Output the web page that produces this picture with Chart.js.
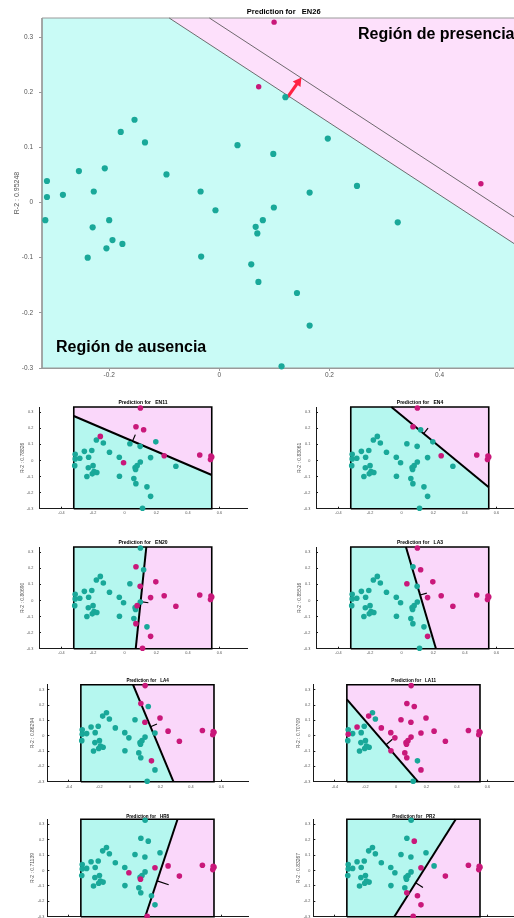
<!DOCTYPE html>
<html lang="es">
<head>
<meta charset="utf-8">
<title>Prediction for EN26</title>
<script src="https://cdn.jsdelivr.net/npm/chart.js@4.4.1/dist/chart.umd.min.js"></script>
<style>
  html, body { margin:0; padding:0; background:#ffffff; overflow:hidden; }
  body { position:relative; width:514px; height:918px; }
  canvas { position:absolute; display:block; }
  .region { position:absolute; font-family:"Liberation Sans", Arial, Helvetica, sans-serif; font-weight:bold;
            font-size:16px; line-height:16px; color:#000; white-space:nowrap; z-index:5; }
</style>
</head>
<body>
<canvas id="EN26" width="531" height="385" style="left:0px;top:0px;width:531px;height:385px"></canvas>
<canvas id="EN11" width="256" height="125" style="left:0px;top:395px;width:256px;height:125px"></canvas>
<canvas id="EN4"  width="256" height="125" style="left:277px;top:395px;width:256px;height:125px"></canvas>
<canvas id="EN20" width="256" height="125" style="left:0px;top:535px;width:256px;height:125px"></canvas>
<canvas id="LA3"  width="256" height="125" style="left:277px;top:535px;width:256px;height:125px"></canvas>
<canvas id="LA4"  width="256" height="117" style="left:0px;top:675px;width:256px;height:117px"></canvas>
<canvas id="LA11" width="256" height="117" style="left:266px;top:675px;width:256px;height:117px"></canvas>
<canvas id="HR8"  width="256" height="125" style="left:0px;top:805px;width:256px;height:125px"></canvas>
<canvas id="PR2"  width="256" height="125" style="left:266px;top:805px;width:256px;height:125px"></canvas>
<div class="region" style="left:358px;top:26px">Región de presencia</div>
<div class="region" style="left:56px;top:339px">Región de ausencia</div>
<script>
// ---------------- DATA ----------------
const POINT_X = [0.0995, 0.0715, 0.475, 0.120, -0.154, -0.179, -0.135, 0.033, 0.098, 0.197,
                 -0.255, -0.208, -0.096, -0.313, 0.250, -0.313, -0.284, -0.228, -0.034, 0.164,
                 -0.316, -0.230, -0.200, -0.194, -0.205, -0.176, -0.239, -0.033, -0.007, 0.066,
                 0.069, 0.079, 0.099, 0.058, 0.071, 0.141, 0.164, 0.113, 0.324, 0.543, 0.551, 0.546];
const POINT_Y = [0.327, 0.210, 0.034, 0.191, 0.150, 0.128, 0.109, 0.104, 0.088, 0.116,
                 0.057, 0.062, 0.051, 0.039, 0.030, 0.010, 0.014, 0.020, 0.020, 0.018,
                 -0.032, -0.045, -0.032, -0.068, -0.083, -0.075, -0.100, -0.098, -0.014, -0.044,
                 -0.056, -0.032, -0.009, -0.112, -0.144, -0.164, -0.223, -0.297, -0.036, 0.006, 0.022, 0.028];

const SPECIES   = ['EN26', 'EN11', 'EN4', 'EN20', 'LA3', 'LA4', 'LA11', 'HR8', 'PR2'];
const R2_VALUES = ['0.95248', '0.78826', '0.83061', '0.80690', '0.85516', '0.86294', '0.70709', '0.71139', '0.83267'];

// indices of points where the species is present (magenta)
const PRESENT_EN26 = [0, 1, 2, 39, 40, 41];
const PRESENT_EN11 = [0, 1, 2, 3, 4, 14, 28, 39, 40, 41];
const PRESENT_EN4  = [0, 1, 2, 14, 39, 40, 41];
const PRESENT_EN20 = [1, 2, 8, 9, 14, 19, 31, 34, 36, 37, 38, 39, 40, 41];
const PRESENT_LA3  = [0, 2, 3, 7, 9, 14, 19, 36, 38, 39, 40, 41];
const PRESENT_LA4  = [0, 1, 2, 8, 9, 14, 35, 38, 39, 40, 41];
const PRESENT_LA11 = [0, 1, 2, 3, 5, 7, 8, 9, 10, 12, 14, 15, 18, 19, 27, 28, 29, 30, 31, 32, 33, 34, 36, 38, 39, 40, 41];
const PRESENT_HR8  = [2, 14, 19, 28, 30, 37, 38, 39, 40, 41];
const PRESENT_PR2  = [2, 3, 19, 34, 35, 36, 37, 38, 39, 40, 41];

// separating lines (two points on each line) and normal markers (from line toward presence side)
const BOUNDARY_EN26 = [[-0.091, 0.3345], [0.536, -0.075]];
const MARGIN_EN26   = [[-0.018, 0.3345], [0.536, -0.0267]];
const ARROW_EN26    = [[0.124, 0.191], [0.149, 0.2265]];
const BOUNDARY_EN11 = [[-0.327, 0.279], [0.551, -0.090]];
const NORMAL_EN11   = [[0.050, 0.121], [0.0675, 0.161]];
const BOUNDARY_EN4  = [[-0.065, 0.333], [0.552, -0.167]];
const NORMAL_EN4    = [[0.139, 0.168], [0.167, 0.202]];
const BOUNDARY_EN20 = [[0.137, 0.333], [0.070, -0.300]];
const NORMAL_EN20   = [[0.101, -0.007], [0.150, -0.014]];
const BOUNDARY_LA3  = [[0.027, 0.333], [0.217, -0.300]];
const NORMAL_LA3    = [[0.117, 0.034], [0.159, 0.046]];
const BOUNDARY_LA4  = [[0.020, 0.333], [0.285, -0.300]];
const NORMAL_LA4    = [[0.135, 0.059], [0.177, 0.077]];
const BOUNDARY_LA11 = [[-0.318, 0.233], [0.144, -0.300]];
const NORMAL_LA11   = [[-0.065, -0.059], [-0.023, -0.023]];
const BOUNDARY_HR8  = [[0.312, 0.333], [0.100, -0.300]];
const NORMAL_HR8    = [[0.178, -0.067], [0.254, -0.092]];
const BOUNDARY_PR2  = [[0.392, 0.333], [-0.011, -0.300]];
const NORMAL_PR2    = [[0.129, -0.080], [0.177, -0.110]];

// axes
const MAIN_X_RANGE  = [-0.322, 0.556];
const MAIN_Y_RANGE  = [-0.3, 0.3345];
const SMALL_X_RANGE = [-0.542, 0.774];
const SMALL_Y_RANGE = [-0.3, 0.333];
const SMALL_BOX     = [-0.322, 0.551, -0.3, 0.333];   // x0, x1, y0, y1
const MAIN_X_TICKS  = [-0.2, 0, 0.2, 0.4];
const SMALL_X_TICKS = [-0.4, -0.2, 0, 0.2, 0.4, 0.6];
const Y_TICKS       = [-0.3, -0.2, -0.1, 0, 0.1, 0.2, 0.3];

// ---------------- STYLE / LAYOUT ----------------
const FONT = '"Liberation Sans", Arial, Helvetica, sans-serif';
const COL = {
  teal: '#19a899', magenta: '#c9187a', red: '#ff2343',
  mainTealBg: '#c9fbf6', mainPinkBg: '#fde0fb',
  smallTealBg: '#b5f7ef', smallPinkBg: '#fad7fa'
};
const LAYOUT_MAIN = {w:531, h:385, yW:42, xH:17, topH:18, padR:0, titleSize:7.5, titlePad:7.8,
  tickSize:6.5, tickLen:3, yTickPad:6, xTickPad:0, yTitleSize:7, yTitlePad:12.8, axisColor:'#9a9a9a', tickColor:'#555'};
const LAYOUT_A = {w:256, h:125, yW:39, xH:11.3, topH:12, padR:9, titleSize:5, titlePad:4.3,
  tickSize:3.8, tickLen:-2, yTickPad:7.7, xTickPad:4.3, yTitleSize:5, yTitlePad:19.7, axisColor:'#1a1a1a', tickColor:'#555'};
const LAYOUT_B3 = {w:256, h:117, yW:47.3, xH:10.3, topH:9.7, padR:8, titleSize:4.6, titlePad:3.2,
  tickSize:3.8, tickLen:-2, yTickPad:5, xTickPad:5.3, yTitleSize:5, yTitlePad:29.5, axisColor:'#1a1a1a', tickColor:'#555'};
const LAYOUT_B4 = Object.assign({}, LAYOUT_B3, {h:125, xH:13.3, topH:14.3, titlePad:8.5});

// ---------------- helpers ----------------
function fmt(v) { const r = Math.round(v * 10) / 10; return r === 0 ? '0' : String(r); }
function xy(arr) { return arr.map(([x, y]) => ({x, y})); }
function boxPoly(b) { return [[b[0], b[2]], [b[1], b[2]], [b[1], b[3]], [b[0], b[3]]]; }
function halfPlane(poly, a, b, ref, same) {
  const side = p => (b[0] - a[0]) * (p[1] - a[1]) - (b[1] - a[1]) * (p[0] - a[0]);
  const s = Math.sign(side(ref)) * (same ? 1 : -1);
  const out = [];
  for (let i = 0; i < poly.length; i++) {
    const p = poly[i], q = poly[(i + 1) % poly.length];
    const sp = side(p) * s, sq = side(q) * s;
    if (sp >= 0) out.push(p);
    if ((sp > 0 && sq < 0) || (sp < 0 && sq > 0)) {
      const t = sp / (sp - sq);
      out.push([p[0] + t * (q[0] - p[0]), p[1] + t * (q[1] - p[1])]);
    }
  }
  return out;
}
function clipLine(a, b, bx) {
  const dx = b[0] - a[0], dy = b[1] - a[1];
  let t0 = -1e9, t1 = 1e9;
  const c = [[-dx, a[0] - bx[0]], [dx, bx[1] - a[0]], [-dy, a[1] - bx[2]], [dy, bx[3] - a[1]]];
  for (const [p, q] of c) {
    if (p === 0) { if (q < 0) return []; }
    else { const r = q / p; if (p < 0) t0 = Math.max(t0, r); else t1 = Math.min(t1, r); }
  }
  if (t0 > t1) return [];
  return [[a[0] + t0 * dx, a[1] + t0 * dy], [a[0] + t1 * dx, a[1] + t1 * dy]];
}
function splitPoints(present) {
  const set = new Set(present), pres = [], abs = [];
  POINT_X.forEach((x, i) => (set.has(i) ? pres : abs).push({x, y: POINT_Y[i]}));
  return {pres, abs};
}
function polyDs(poly, color, order) {
  return {data: xy(poly), showLine: true, fill: 'shape', backgroundColor: color, borderColor: 'transparent',
          borderWidth: 0, pointRadius: 0, order, clip: false};
}
function lineDs(pts, color, width, order) {
  return {data: xy(pts), showLine: true, fill: false, borderColor: color, borderWidth: width,
          pointRadius: 0, order, clip: false, borderCapStyle: 'butt'};
}
function pointDs(pts, color, r, order) {
  return {data: pts, showLine: false, pointRadius: r, pointBackgroundColor: color, pointBorderColor: color,
          pointBorderWidth: 0, order, clip: false};
}

function makeChart(id, L, xRange, yRange, xTicks, title, r2, datasets) {
  return new Chart(document.getElementById(id), {
    type: 'scatter',
    data: {datasets},
    options: {
      responsive: false, animation: false, events: [], devicePixelRatio: 1,
      layout: {padding: {left: 0, right: L.padR, top: 0, bottom: 0}},
      elements: {line: {tension: 0}},
      plugins: {legend: {display: false}, tooltip: {enabled: false}, title: {display: false}},
      scales: {
        x: {
          type: 'linear', position: 'bottom', min: xRange[0], max: xRange[1], z: 1,
          afterBuildTicks: s => { s.ticks = xTicks.map(v => ({value: v})); },
          afterFit: s => { s.height = L.xH; },
          ticks: {autoSkip: false, maxRotation: 0, padding: L.xTickPad, color: L.tickColor,
                  font: {family: FONT, size: L.tickSize, lineHeight: 1.2}, callback: v => fmt(v)},
          grid: {display: true, drawOnChartArea: false, drawTicks: true, tickLength: L.tickLen, color: L.axisColor},
          border: {display: true, color: L.axisColor, width: 1}
        },
        x2: {
          type: 'linear', position: 'top', min: xRange[0], max: xRange[1],
          afterBuildTicks: s => { s.ticks = []; },
          afterFit: s => { s.height = L.topH; },
          ticks: {display: false}, grid: {display: false, drawTicks: false}, border: {display: false},
          title: {display: true, text: title, color: '#000',
                  font: {family: FONT, size: L.titleSize, weight: 'bold', lineHeight: 1.2},
                  padding: {top: L.titlePad, bottom: 0}}
        },
        y: {
          type: 'linear', position: 'left', min: yRange[0], max: yRange[1], z: 1,
          afterBuildTicks: s => { s.ticks = Y_TICKS.map(v => ({value: v})); },
          afterFit: s => { s.width = L.yW; },
          ticks: {autoSkip: false, padding: L.yTickPad, color: L.tickColor,
                  font: {family: FONT, size: L.tickSize, lineHeight: 1.2}, callback: v => fmt(v)},
          grid: {display: true, drawOnChartArea: false, drawTicks: true, tickLength: L.tickLen, color: L.axisColor},
          border: {display: true, color: L.axisColor, width: 1},
          title: {display: true, text: 'R-2 : ' + r2, color: '#555',
                  font: {family: FONT, size: L.yTitleSize, lineHeight: 1.2},
                  padding: {top: L.yTitlePad, bottom: 0}}
        }
      }
    }
  });
}

// ---------------- main chart ----------------
(function () {
  const L = LAYOUT_MAIN;
  const box = [MAIN_X_RANGE[0], MAIN_X_RANGE[1], MAIN_Y_RANGE[0], MAIN_Y_RANGE[1]];
  const poly = boxPoly(box);
  const [a, b] = BOUNDARY_EN26;
  const tip = ARROW_EN26[1], start = ARROW_EN26[0];
  const pink = halfPlane(poly, a, b, tip, true);
  const teal = halfPlane(poly, a, b, tip, false);
  const {pres, abs} = splitPoints(PRESENT_EN26);
  // arrow head: triangle pointing along the arrow, tip on the margin line (equal px/unit on both axes)
  const pxPerUnit = 550;
  const dxp = (tip[0] - start[0]) * pxPerUnit, dyp = (tip[1] - start[1]) * pxPerUnit;
  const len = Math.hypot(dxp, dyp), headR = 5.5;
  const headC = [tip[0] - headR * dxp / len / pxPerUnit, tip[1] - headR * dyp / len / pxPerUnit];
  const rot = Math.atan2(dxp, dyp) * 180 / Math.PI;
  const frame = poly.concat([poly[0]]);
  const datasets = [
    pointDs(pres, COL.magenta, 2.7, 0),
    pointDs(abs, COL.teal, 3.1, 0),
    Object.assign(pointDs([{x: headC[0], y: headC[1]}], COL.red, headR, 1), {pointStyle: 'triangle', pointRotation: rot}),
    lineDs([start, headC], COL.red, 3.2, 1),
    lineDs(clipLine(a, b, box), '#4a4a4a', 0.8, 2),
    lineDs(clipLine(MARGIN_EN26[0], MARGIN_EN26[1], box), '#4a4a4a', 0.8, 2),
    lineDs(frame, '#9a9a9a', 1, 3),
    polyDs(pink, COL.mainPinkBg, 4),
    polyDs(teal, COL.mainTealBg, 5)
  ];
  makeChart('EN26', L, MAIN_X_RANGE, MAIN_Y_RANGE, MAIN_X_TICKS, 'Prediction for   ' + SPECIES[0], R2_VALUES[0], datasets);
})();

// ---------------- small charts ----------------
const SMALL = [
  {id: 'EN11', L: LAYOUT_A,  present: PRESENT_EN11, line: BOUNDARY_EN11, normal: NORMAL_EN11},
  {id: 'EN4',  L: LAYOUT_A,  present: PRESENT_EN4,  line: BOUNDARY_EN4,  normal: NORMAL_EN4},
  {id: 'EN20', L: LAYOUT_A,  present: PRESENT_EN20, line: BOUNDARY_EN20, normal: NORMAL_EN20},
  {id: 'LA3',  L: LAYOUT_A,  present: PRESENT_LA3,  line: BOUNDARY_LA3,  normal: NORMAL_LA3},
  {id: 'LA4',  L: LAYOUT_B3, present: PRESENT_LA4,  line: BOUNDARY_LA4,  normal: NORMAL_LA4},
  {id: 'LA11', L: LAYOUT_B3, present: PRESENT_LA11, line: BOUNDARY_LA11, normal: NORMAL_LA11},
  {id: 'HR8',  L: LAYOUT_B4, present: PRESENT_HR8,  line: BOUNDARY_HR8,  normal: NORMAL_HR8},
  {id: 'PR2',  L: LAYOUT_B4, present: PRESENT_PR2,  line: BOUNDARY_PR2,  normal: NORMAL_PR2}
];
SMALL.forEach(p => {
  const k = SPECIES.indexOf(p.id);
  const poly = boxPoly(SMALL_BOX);
  const [a, b] = p.line;
  const ref = p.normal[1];
  const pink = halfPlane(poly, a, b, ref, true);
  const teal = halfPlane(poly, a, b, ref, false);
  const {pres, abs} = splitPoints(p.present);
  const datasets = [
    pointDs(pres, COL.magenta, 2.8, 0),
    pointDs(abs, COL.teal, 2.8, 0),
    lineDs(p.normal, '#000', 1.2, 1),
    lineDs(clipLine(a, b, SMALL_BOX), '#000', 2, 1),
    lineDs(poly.concat([poly[0]]), '#000', 1.6, 2),
    polyDs(pink, COL.smallPinkBg, 3),
    polyDs(teal, COL.smallTealBg, 4)
  ];
  makeChart(p.id, p.L, SMALL_X_RANGE, SMALL_Y_RANGE, SMALL_X_TICKS, 'Prediction for   ' + p.id, R2_VALUES[k], datasets);
});
</script>
</body>
</html>
